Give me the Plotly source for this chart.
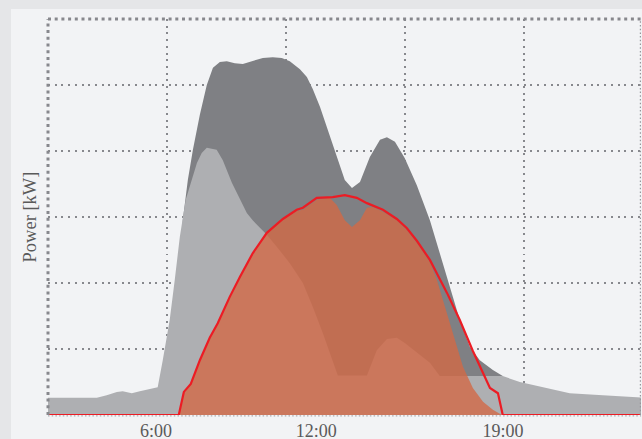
import plotly.graph_objects as go

# ---- data (x = hour of day, y = power in kW) ----
# total demand (dark grey envelope)
total_x = [6.90, 7.00, 7.19, 7.38, 7.64, 7.90, 8.13, 8.39, 8.65, 8.95, 9.25, 9.62,
           10.00, 10.37, 10.71, 11.01, 11.39, 11.65, 11.87, 12.14, 12.40, 12.70,
           13.07, 13.34, 13.64, 14.01, 14.39, 14.65, 14.95, 15.32, 15.77, 16.26,
           16.63, 17.01, 17.38, 17.76, 18.13, 18.62, 18.99]
total_y = [2.30, 2.95, 3.56, 4.02, 4.55, 5.00, 5.26, 5.35, 5.36, 5.33, 5.32, 5.36,
           5.41, 5.42, 5.41, 5.36, 5.24, 5.12, 4.94, 4.67, 4.36, 3.97,
           3.56, 3.44, 3.53, 3.91, 4.17, 4.21, 4.14, 3.89, 3.48, 2.95,
           2.45, 1.94, 1.44, 1.03, 0.83, 0.68, 0.59]

# base load (light grey)
load_x = [1.90, 3.78, 4.15, 4.53, 4.75, 5.09, 5.39, 5.69, 6.06, 6.25, 6.51, 6.70,
          6.89, 7.11, 7.34, 7.53, 7.71, 7.90, 8.27, 8.50, 8.84, 9.14, 9.40, 9.62,
          10.15, 10.56, 11.01, 11.50, 11.87, 12.25, 12.51, 12.81, 13.90, 14.27,
          14.65, 15.02, 15.32, 15.77, 16.26, 16.63, 18.99, 19.63, 20.27, 21.50,
          22.74, 24.30]
load_y = [0.26, 0.26, 0.30, 0.35, 0.36, 0.33, 0.36, 0.39, 0.42, 0.83, 1.44, 2.05,
          2.70, 3.26, 3.56, 3.82, 3.97, 4.05, 4.02, 3.86, 3.52, 3.26, 3.06, 2.95,
          2.73, 2.53, 2.30, 2.00, 1.64, 1.24, 0.94, 0.60, 0.60, 0.98,
          1.15, 1.17, 1.09, 0.94, 0.79, 0.59, 0.59, 0.50, 0.44, 0.33,
          0.30, 0.26]

# self-consumed PV (orange)
self_x = [6.85, 7.04, 7.30, 7.64, 8.01, 8.31, 8.76, 9.14, 9.62, 10.15, 10.75, 11.27,
          11.50, 12.02, 12.51, 12.77, 13.07, 13.34, 13.64, 13.90, 14.12, 14.50,
          15.02, 15.40, 15.77, 16.26, 16.52, 16.75, 17.12, 17.50, 17.87, 18.25,
          18.62, 18.96]
self_y = [0.00, 0.35, 0.47, 0.83, 1.17, 1.39, 1.79, 2.09, 2.45, 2.76, 2.97, 3.09,
          3.11, 3.26, 3.29, 3.18, 2.95, 2.85, 2.95, 3.14, 3.15, 3.08,
          2.95, 2.80, 2.61, 2.32, 2.05, 1.74, 1.24, 0.73, 0.41, 0.20,
          0.08, 0.00]

# PV production (red line)
pv_x = [1.90, 6.85, 7.04, 7.30, 7.64, 8.01, 8.31, 8.76, 9.14, 9.62, 10.15, 10.75,
        11.27, 11.50, 12.02, 12.62, 13.07, 13.52, 13.90, 14.50, 15.02, 15.40,
        15.77, 16.26, 16.90, 17.38, 17.87, 18.51, 18.81, 18.99, 24.30]
pv_y = [0.00, 0.00, 0.35, 0.47, 0.83, 1.17, 1.39, 1.79, 2.09, 2.45, 2.76, 2.97,
        3.11, 3.14, 3.29, 3.30, 3.33, 3.29, 3.21, 3.11, 2.97, 2.83,
        2.64, 2.35, 1.85, 1.44, 0.97, 0.41, 0.33, 0.00, 0.00]

tick_hours = [6, 12, 19]
tick_labels = ["6:00", "12:00", "19:00"]
grid_hours = [6.40, 10.86, 15.32, 19.78]
grid_kw = [1, 2, 3, 4, 5]
x_range = [1.95, 24.17]
y_range = [0, 6]

# ---- style ----
DARK = "rgb(127,128,132)"
LIGHT = "rgb(174,175,178)"
ORANGE = "rgba(210,105,70,0.8)"
RED = "rgb(236,28,36)"
GRID = "rgb(135,136,141)"
FONT = "Liberation Serif"

fig = go.Figure()
fig.add_trace(go.Scatter(x=total_x, y=total_y, mode="lines", fill="tozeroy",
                         line=dict(width=0, color=DARK), fillcolor=DARK,
                         hoverinfo="skip", showlegend=False))
fig.add_trace(go.Scatter(x=load_x, y=load_y, mode="lines", fill="tozeroy",
                         line=dict(width=0, color=LIGHT), fillcolor=LIGHT,
                         hoverinfo="skip", showlegend=False))
fig.add_trace(go.Scatter(x=self_x, y=self_y, mode="lines", fill="tozeroy",
                         line=dict(width=0, color=ORANGE), fillcolor=ORANGE,
                         hoverinfo="skip", showlegend=False))
fig.add_trace(go.Scatter(x=pv_x, y=pv_y, mode="lines",
                         line=dict(width=2.2, color=RED),
                         hoverinfo="skip", showlegend=False))

fig.update_layout(
    width=642, height=439,
    margin=dict(l=48, r=1, t=19, b=24),
    paper_bgcolor="#e5e6e8",
    plot_bgcolor="#f2f3f5",
    font=dict(family=FONT, color="#5a5a5a"),
    xaxis=dict(range=x_range, tickmode="array", tickvals=tick_hours,
               ticktext=tick_labels, showgrid=False, zeroline=False,
               showline=False, ticks="", ticklabelstandoff=3, automargin=False,
               tickfont=dict(family=FONT, size=18, color="#5a5a5a"),
               minor=dict(tickmode="array", tickvals=grid_hours, showgrid=True,
                          gridcolor=GRID, gridwidth=2, griddash="2px,4.7px")),
    yaxis=dict(range=y_range, tickmode="array", tickvals=grid_kw,
               showticklabels=False, showgrid=True, gridcolor=GRID, gridwidth=2,
               griddash="2px,4.7px", zeroline=False, showline=False, ticks="",
               automargin=False,
               title=dict(text="Power [kW]", standoff=5,
                          font=dict(family=FONT, size=18.5, color="#5a5a5a"))),
    shapes=[
        # inner light panel
        dict(type="rect", xref="paper", yref="paper", x0=-0.0624, x1=1.05,
             y0=-0.1, y1=1.0253, fillcolor="#f2f3f5", line=dict(width=0),
             layer="below"),
        # bottom border
        dict(type="line", xref="paper", yref="paper", x0=0, x1=1, y0=-0.002, y1=-0.002,
             line=dict(color="rgb(170,171,176)", width=1.2, dash="1.5px,2.2px"),
             layer="below"),
        # right border
        dict(type="line", xref="paper", yref="paper", x0=0.999, x1=0.999, y0=0, y1=1,
             line=dict(color="rgb(150,151,156)", width=1.2, dash="1.5px,2.2px"),
             layer="above"),
        # top border
        dict(type="line", xref="paper", yref="paper", x0=0, x1=1, y0=1, y1=1,
             line=dict(color=GRID, width=3, dash="3px,3.7px"), layer="above"),
        # left border
        dict(type="line", xref="paper", yref="paper", x0=0, x1=0, y0=0, y1=1,
             line=dict(color=GRID, width=3, dash="3px,3.7px"), layer="above"),
    ],
)

fig.write_html(
    "out.html",
    config={"displayModeBar": False},
    post_script="document.body.style.margin='0';document.body.style.overflow='hidden';",
)
